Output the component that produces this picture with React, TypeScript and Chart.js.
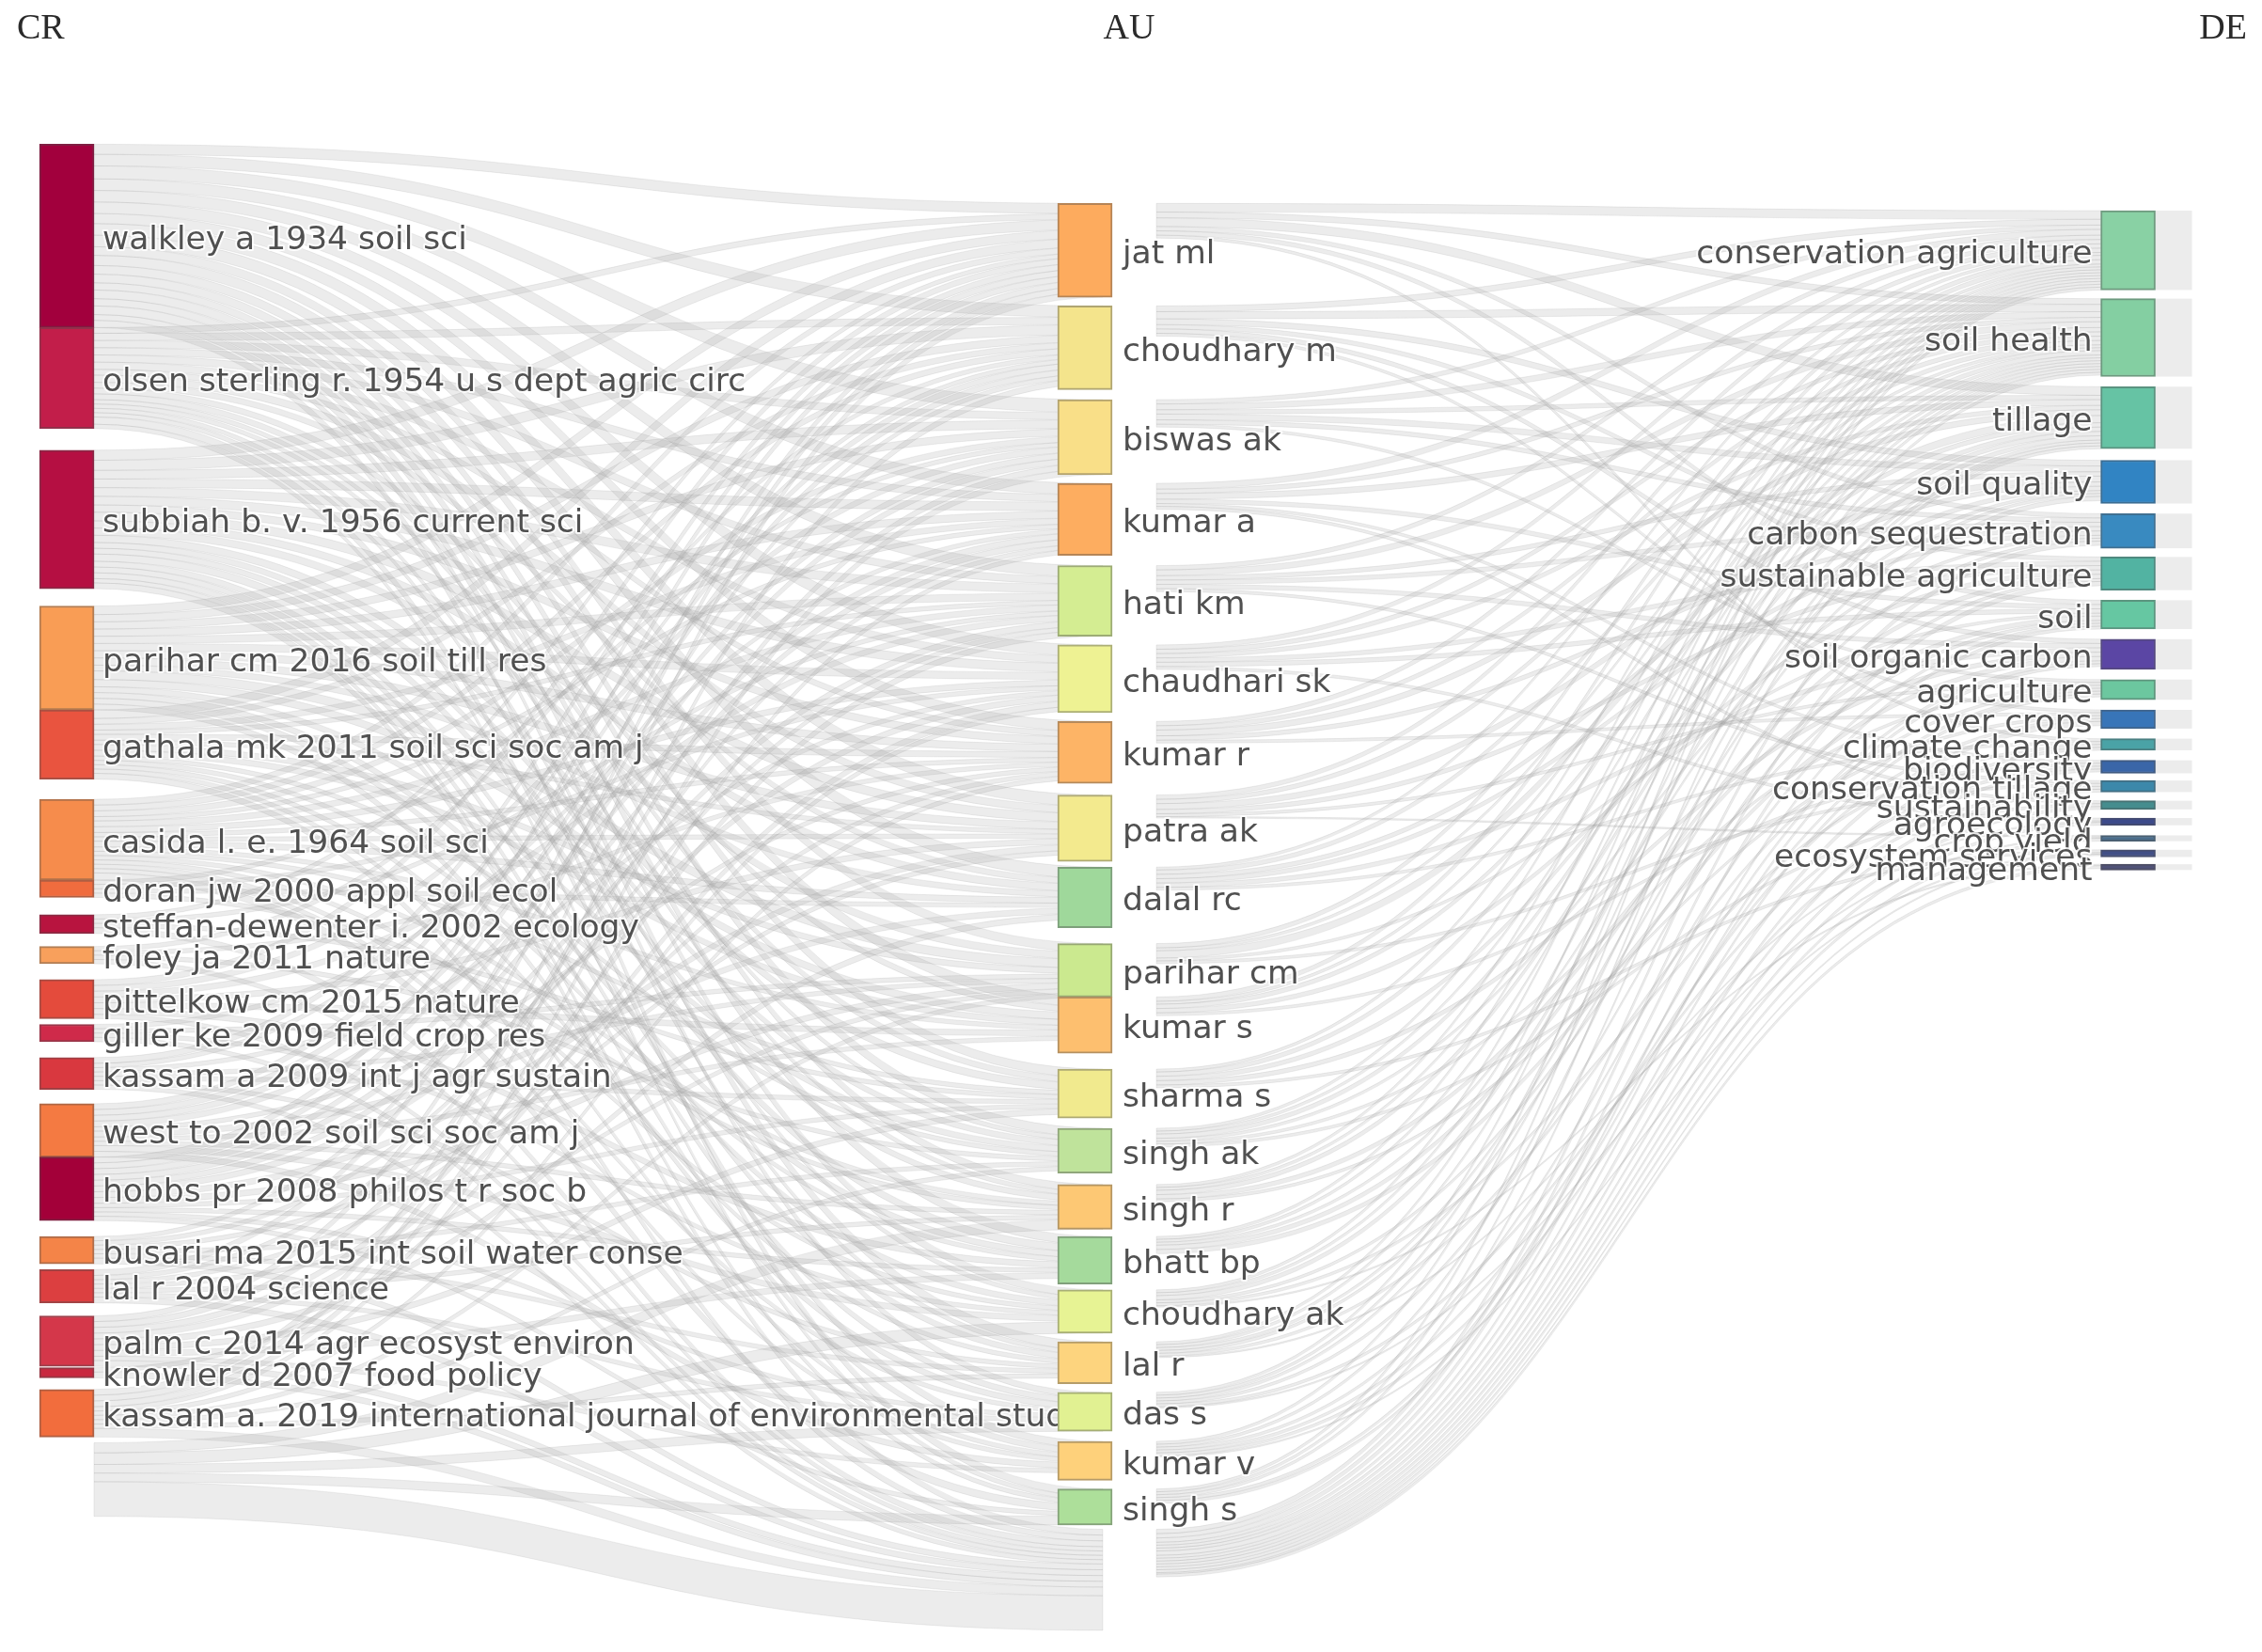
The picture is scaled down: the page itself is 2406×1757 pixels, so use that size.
import React, { useEffect, useRef } from "react";
import { Chart, registerables } from "chart.js";

Chart.register(...registerables);

// ---------------- data ----------------
const COLUMN_TITLES = ["CR", "AU", "DE"];

const CR_LABELS = [
  "walkley a 1934 soil sci",
  "olsen sterling r. 1954 u s dept agric circ",
  "subbiah b. v. 1956 current sci",
  "parihar cm 2016 soil till res",
  "gathala mk 2011 soil sci soc am j",
  "casida l. e. 1964 soil sci",
  "doran jw 2000 appl soil ecol",
  "steffan-dewenter i. 2002 ecology",
  "foley ja 2011 nature",
  "pittelkow cm 2015 nature",
  "giller ke 2009 field crop res",
  "kassam a 2009 int j agr sustain",
  "west to 2002 soil sci soc am j",
  "hobbs pr 2008 philos t r soc b",
  "busari ma 2015 int soil water conse",
  "lal r 2004 science",
  "palm c 2014 agr ecosyst environ",
  "knowler d 2007 food policy",
  "kassam a. 2019 international journal of environmental studies",
];
const CR_VALUES = [127, 70, 96, 72, 48, 56, 12, 13, 12, 27, 12, 22, 37, 44, 19, 23, 35, 7, 33];
const CR_COLORS = [
  "#a2003d", "#c21e4a", "#b50f42", "#f99d55", "#e9543f", "#f68c4c", "#f06c3e",
  "#b8143f", "#f8a05c", "#e44b3c", "#cf2a4a", "#d9383f", "#f47a42", "#a30039",
  "#f48448", "#dc3f40", "#d4374a", "#c9283f", "#f26d3d",
];

const AU_LABELS = [
  "jat ml", "choudhary m", "biswas ak", "kumar a", "hati km", "chaudhari sk",
  "kumar r", "patra ak", "dalal rc", "parihar cm", "kumar s", "sharma s",
  "singh ak", "singh r", "bhatt bp", "choudhary ak", "lal r", "das s",
  "kumar v", "singh s",
];
const AU_VALUES = [65, 58, 52, 50, 49, 47, 43, 46, 42, 37, 39, 34, 31, 31, 33, 30, 29, 27, 27, 25];
const AU_COLORS = [
  "#fdab5e", "#f4e48c", "#f9df88", "#fdad60", "#d4ed92", "#eef293", "#fdb466",
  "#f3ea8e", "#9fd89b", "#cbe98f", "#fdbf6f", "#f1ea8e", "#bfe39b", "#fdc874",
  "#a5da9c", "#e7f394", "#fdd47e", "#e1f192", "#fed17b", "#addf9a",
];

const DE_LABELS = [
  "conservation agriculture", "soil health", "tillage", "soil quality",
  "carbon sequestration", "sustainable agriculture", "soil", "soil organic carbon",
  "agriculture", "cover crops", "climate change", "biodiversity",
  "conservation tillage", "sustainability", "agroecology", "crop yield",
  "ecosystem services", "management",
];
const DE_VALUES = [55, 54, 43, 30, 24, 23, 20, 21, 14, 13, 8, 9, 8, 6, 5, 4, 5, 4];
const DE_COLORS = [
  "#89d1a4", "#84cfa2", "#66c3a4", "#3184c3", "#398ac0", "#52b3a2", "#66c7a2",
  "#5b46a4", "#6cc79f", "#3875b8", "#4aa3a6", "#3a66a8", "#3c88aa", "#458d8e",
  "#3c4a8a", "#4c6e8c", "#414f86", "#505278",
];

// flows of items not shown as labelled nodes (unlabelled bands at the bottom)
const CR_OTHER_VALUE = 51; // source index 19 in CR_AU_LINKS
const AU_OTHER_VALUE = 70; // index 20 in AU targets / sources

// [source, target, value]
const CR_AU_LINKS: number[][] = [
  [0,0,7],[0,1,8],[0,2,9],[0,3,8],[0,4,8],[0,5,8],[0,6,7],[0,7,8],[0,8,8],[0,9,6],[0,10,7],[0,11,6],[0,12,6],[0,13,5],[0,14,6],[0,15,5],[0,16,6],[0,17,4],[0,19,5],
  [1,0,4],[1,1,5],[1,2,5],[1,3,5],[1,4,5],[1,5,5],[1,6,4],[1,7,5],[1,8,4],[1,10,4],[1,11,4],[1,12,3],[1,13,3],[1,15,3],[1,16,3],[1,18,5],[1,19,3],
  [2,0,7],[2,1,7],[2,2,6],[2,3,6],[2,4,6],[2,5,6],[2,6,5],[2,7,6],[2,8,5],[2,9,5],[2,11,5],[2,12,4],[2,13,4],[2,14,5],[2,16,4],[2,17,4],[2,18,4],[2,19,3],[2,20,4],
  [3,0,6],[3,1,5],[3,2,5],[3,3,5],[3,4,5],[3,5,5],[3,6,5],[3,7,5],[3,8,4],[3,9,6],[3,10,5],[3,12,4],[3,14,4],[3,15,4],[3,17,4],
  [4,0,6],[4,1,4],[4,3,4],[4,4,3],[4,6,4],[4,7,3],[4,9,4],[4,10,4],[4,12,3],[4,14,3],[4,16,3],[4,18,3],[4,20,4],
  [5,0,4],[5,1,4],[5,2,4],[5,3,3],[5,4,4],[5,5,4],[5,6,3],[5,7,3],[5,8,4],[5,10,3],[5,11,3],[5,13,3],[5,15,3],[5,17,3],[5,18,3],[5,19,5],
  [6,2,3],[6,5,3],[6,8,3],[6,13,3],
  [7,0,3],[7,4,3],[7,11,3],[7,20,4],
  [8,1,3],[8,6,3],[8,12,3],[8,20,3],
  [9,0,4],[9,2,4],[9,4,4],[9,7,4],[9,10,4],[9,14,4],[9,20,3],
  [10,3,3],[10,9,3],[10,15,3],[10,20,3],
  [11,0,4],[11,1,3],[11,5,3],[11,9,3],[11,11,3],[11,16,3],[11,20,3],
  [12,0,4],[12,1,4],[12,2,4],[12,3,4],[12,6,3],[12,8,4],[12,10,3],[12,13,3],[12,15,4],[12,18,4],
  [13,0,4],[13,1,4],[13,2,4],[13,3,4],[13,4,4],[13,5,4],[13,7,4],[13,9,4],[13,11,3],[13,14,3],[13,17,3],[13,19,3],
  [14,1,3],[14,4,3],[14,7,3],[14,12,3],[14,16,3],[14,20,4],
  [15,0,4],[15,3,3],[15,6,3],[15,9,3],[15,13,3],[15,17,3],[15,20,4],
  [16,0,4],[16,2,4],[16,4,4],[16,5,4],[16,8,4],[16,11,4],[16,14,4],[16,18,3],[16,20,4],
  [17,5,3],[17,20,4],
  [18,0,4],[18,1,4],[18,2,4],[18,3,3],[18,6,3],[18,9,3],[18,12,3],[18,16,3],[18,20,6],
  [19,13,7],[19,15,8],[19,17,6],[19,19,6],[19,20,24],
];

const AU_DE_LINKS: number[][] = [
  [0,0,6],[0,1,4],[0,2,6],[0,4,3],[0,6,3],[0,10,2],
  [1,0,4],[1,1,5],[1,3,4],[1,5,3],[1,7,3],[1,9,2],
  [2,0,3],[2,1,4],[2,2,3],[2,3,4],[2,4,3],[2,8,2],
  [3,0,4],[3,1,3],[3,2,4],[3,6,3],[3,11,2],[3,13,2],
  [4,0,3],[4,1,4],[4,3,3],[4,4,3],[4,7,3],[4,12,2],
  [5,0,3],[5,1,3],[5,2,3],[5,5,3],[5,6,3],[5,14,2],
  [6,0,3],[6,1,3],[6,2,4],[6,4,3],[6,9,2],
  [7,0,3],[7,1,3],[7,3,4],[7,5,3],[7,8,2],[7,15,1],
  [8,0,2],[8,1,3],[8,3,3],[8,4,3],[8,7,3],[8,10,2],
  [9,0,3],[9,1,2],[9,2,5],[9,6,2],[9,12,2],
  [10,0,3],[10,1,2],[10,2,3],[10,5,3],[10,11,2],
  [11,0,2],[11,1,3],[11,3,3],[11,7,3],[11,16,2],
  [12,0,2],[12,1,2],[12,2,3],[12,4,2],[12,8,2],[12,13,2],
  [13,0,2],[13,1,2],[13,2,3],[13,6,3],[13,9,2],
  [14,0,2],[14,1,2],[14,3,2],[14,5,3],[14,7,3],
  [15,0,2],[15,1,2],[15,2,3],[15,6,2],[15,10,2],[15,17,1],
  [16,0,2],[16,1,2],[16,3,2],[16,4,2],[16,8,2],[16,14,1],
  [17,0,2],[17,1,2],[17,2,2],[17,5,2],[17,11,2],[17,15,1],
  [18,0,2],[18,2,2],[18,6,2],[18,9,2],[18,12,2],[18,16,1],
  [19,0,2],[19,1,2],[19,2,2],[19,7,2],[19,8,2],
  [20,3,3],[20,4,3],[20,5,3],[20,6,2],[20,7,2],[20,8,2],[20,9,3],[20,10,2],[20,11,2],[20,12,2],[20,13,2],[20,14,2],[20,15,2],[20,16,1],[20,17,2],
];

// ---------------- layout / style ----------------
const LAYOUT = {
  width: 2406,
  height: 1757,
  colX: [0, 1, 2.0245],
  xMin: -0.06556,
  xMax: 2.15605,
  yMax: 1145,
  colStart: [100, 141, 146],
  crGaps: [0, 15, 12, 0, 14, 0, 12, 9, 11, 4, 11, 10, 0, 11, 4, 9, 1, 8, 4],
  auGaps: [6, 7, 6, 7, 6, 6, 8, 4, 11, 0, 11, 7, 8, 5, 4, 6, 6, 7, 6, 3],
  deGaps: [6, 7, 8, 7, 6, 7, 7, 7, 7, 7, 7, 5, 6, 6, 7, 6, 5],
  nodeWidth: 58,
  auLinkGap: 47,
  stubLength: 39,
  labelFont: '34.5px "DejaVu Sans"',
  titleFont: '38px "Liberation Serif"',
};
const LINK_FILL = "rgba(170,170,170,0.22)";
const LINK_EDGE = "rgba(140,140,140,0.15)";
const LABEL_COLOR = "#505050";
const TITLE_COLOR = "#2a2a2a";

function stackNodes(values: number[], gaps: number[], start: number) {
  const tops: number[] = [];
  let y = start;
  values.forEach((v, i) => {
    if (i > 0) y += gaps[i - 1];
    tops.push(y);
    y += v;
  });
  return tops;
}

const crTops = stackNodes([...CR_VALUES, CR_OTHER_VALUE], LAYOUT.crGaps, LAYOUT.colStart[0]);
const auTops = stackNodes([...AU_VALUES, AU_OTHER_VALUE], LAYOUT.auGaps, LAYOUT.colStart[1]);
const deTops = stackNodes(DE_VALUES, LAYOUT.deGaps, LAYOUT.colStart[2]);

function linkGeometry(links: number[][], srcTops: number[], tgtTops: number[]) {
  const s: number[] = new Array(links.length);
  const t: number[] = new Array(links.length);
  const so = srcTops.map(() => 0);
  const to = tgtTops.map(() => 0);
  const idx = links.map((_, i) => i);
  [...idx]
    .sort((a, b) => links[a][0] - links[b][0] || links[a][1] - links[b][1])
    .forEach((i) => {
      const [src, , v] = links[i];
      s[i] = srcTops[src] + so[src];
      so[src] += v;
    });
  [...idx]
    .sort((a, b) => links[a][1] - links[b][1] || links[a][0] - links[b][0])
    .forEach((i) => {
      const [, tgt, v] = links[i];
      t[i] = tgtTops[tgt] + to[tgt];
      to[tgt] += v;
    });
  return { s, t };
}

function mixHex(a: string, b: string, k: number) {
  const pa = parseInt(a.slice(1), 16);
  const pb = parseInt(b.slice(1), 16);
  const ch = (p: number, sh: number) => (p >> sh) & 255;
  const r = Math.round(ch(pa, 16) * (1 - k) + ch(pb, 16) * k);
  const g = Math.round(ch(pa, 8) * (1 - k) + ch(pb, 8) * k);
  const bl = Math.round(ch(pa, 0) * (1 - k) + ch(pb, 0) * k);
  return `rgb(${r},${g},${bl})`;
}

function drawBand(ctx: CanvasRenderingContext2D, x0: number, y0a: number, y0b: number, x1: number, y1a: number, y1b: number) {
  const xm = (x0 + x1) / 2;
  ctx.beginPath();
  ctx.moveTo(x0, y0a);
  ctx.bezierCurveTo(xm, y0a, xm, y1a, x1, y1a);
  ctx.lineTo(x1, y1b);
  ctx.bezierCurveTo(xm, y1b, xm, y0b, x0, y0b);
  ctx.closePath();
  ctx.fill();
  ctx.stroke();
}

function drawLabel(ctx: CanvasRenderingContext2D, text: string, x: number, y: number) {
  ctx.strokeText(text, x, y);
  ctx.fillText(text, x, y);
}

const sankeyPlugin = {
  id: "sankeyLinks",
  beforeDatasetsDraw(chart: any) {
    const ctx: CanvasRenderingContext2D = chart.ctx;
    const xs = chart.scales.x;
    const ys = chart.scales.y;
    const W = LAYOUT.nodeWidth;
    const colPx = LAYOUT.colX.map((v) => xs.getPixelForValue(v));
    const py = (v: number) => ys.getPixelForValue(v);
    ctx.save();
    ctx.fillStyle = LINK_FILL;
    ctx.strokeStyle = LINK_EDGE;
    ctx.lineWidth = 1;
    const g1 = linkGeometry(CR_AU_LINKS, crTops, auTops);
    const x0 = colPx[0] + W / 2;
    const x1 = colPx[1] + W / 2 - 10;
    CR_AU_LINKS.forEach((l, i) => {
      const v = l[2];
      drawBand(ctx, x0, py(g1.s[i]), py(g1.s[i] + v), x1, py(g1.t[i]), py(g1.t[i] + v));
    });
    const g2 = linkGeometry(AU_DE_LINKS, auTops, deTops);
    const x2 = colPx[1] + W / 2 + LAYOUT.auLinkGap;
    const x3 = colPx[2] - W / 2;
    AU_DE_LINKS.forEach((l, i) => {
      const v = l[2];
      drawBand(ctx, x2, py(g2.s[i]), py(g2.s[i] + v), x3, py(g2.t[i]), py(g2.t[i] + v));
    });
    DE_VALUES.forEach((v, i) => {
      const ya = py(deTops[i]);
      const yb = py(deTops[i] + v);
      ctx.fillRect(colPx[2] + W / 2, ya, LAYOUT.stubLength, yb - ya);
    });
    ctx.restore();
  },
  afterDatasetsDraw(chart: any) {
    const ctx: CanvasRenderingContext2D = chart.ctx;
    const xs = chart.scales.x;
    const ys = chart.scales.y;
    const W = LAYOUT.nodeWidth;
    const colPx = LAYOUT.colX.map((v) => xs.getPixelForValue(v));
    const py = (v: number) => ys.getPixelForValue(v);
    const off = 5;
    ctx.save();
    ctx.font = LAYOUT.labelFont;
    ctx.fillStyle = LABEL_COLOR;
    ctx.strokeStyle = "rgba(255,255,255,0.85)";
    ctx.lineWidth = 4;
    ctx.lineJoin = "round";
    ctx.textBaseline = "middle";
    // CR labels (clipped by the AU column)
    ctx.save();
    ctx.beginPath();
    ctx.rect(0, 0, colPx[1] - W / 2, LAYOUT.height);
    ctx.clip();
    ctx.textAlign = "left";
    CR_LABELS.forEach((lab, i) => {
      const yc = (py(crTops[i]) + py(crTops[i] + CR_VALUES[i])) / 2 + off;
      drawLabel(ctx, lab, colPx[0] + W / 2 + 9, yc);
    });
    ctx.restore();
    ctx.textAlign = "left";
    AU_LABELS.forEach((lab, i) => {
      const yc = (py(auTops[i]) + py(auTops[i] + AU_VALUES[i])) / 2 + off;
      drawLabel(ctx, lab, colPx[1] + W / 2 + 11, yc);
    });
    ctx.textAlign = "right";
    DE_LABELS.forEach((lab, i) => {
      const yc = (py(deTops[i]) + py(deTops[i] + DE_VALUES[i])) / 2 + off;
      drawLabel(ctx, lab, colPx[2] - W / 2 - 9, yc);
    });
    // column titles
    ctx.font = LAYOUT.titleFont;
    ctx.fillStyle = TITLE_COLOR;
    ctx.textBaseline = "alphabetic";
    ctx.textAlign = "left";
    ctx.fillText(COLUMN_TITLES[0], 18, 41);
    ctx.textAlign = "center";
    ctx.fillText(COLUMN_TITLES[1], chart.width / 2 - 2, 41);
    ctx.textAlign = "right";
    ctx.fillText(COLUMN_TITLES[2], chart.width - 16, 41);
    ctx.restore();
  },
};

export default function App() {
  const canvasRef = useRef<HTMLCanvasElement | null>(null);

  useEffect(() => {
    if (!canvasRef.current) return;
    document.body.style.overflow = "hidden";
    const columns = [
      { values: CR_VALUES, colors: CR_COLORS, tops: crTops },
      { values: AU_VALUES, colors: AU_COLORS, tops: auTops },
      { values: DE_VALUES, colors: DE_COLORS, tops: deTops },
    ];
    const datasets = columns.map((col, c) => ({
      label: COLUMN_TITLES[c],
      data: col.values.map((v, i) => ({ x: LAYOUT.colX[c], y: [col.tops[i], col.tops[i] + v] })),
      backgroundColor: col.colors,
      borderColor: col.colors.map((h) => mixHex(h, "#4a4a4a", 0.4)),
      borderWidth: 2,
      borderSkipped: false as const,
      barPercentage: 1,
      categoryPercentage: 1,
      maxBarThickness: LAYOUT.nodeWidth,
      grouped: false,
    }));
    const chart = new Chart(canvasRef.current, {
      type: "bar",
      data: { datasets: datasets as any },
      options: {
        animation: false,
        responsive: false,
        maintainAspectRatio: false,
        devicePixelRatio: 1,
        layout: { padding: 0 },
        plugins: {
          legend: { display: false },
          tooltip: { enabled: false },
          title: { display: false },
        },
        scales: {
          x: {
            type: "linear",
            min: LAYOUT.xMin,
            max: LAYOUT.xMax,
            display: false,
            offset: false,
            ticks: { stepSize: 0.5 },
          },
          y: {
            type: "linear",
            min: 0,
            max: LAYOUT.yMax,
            reverse: true,
            display: false,
          },
        },
      },
      plugins: [sankeyPlugin],
    });
    return () => chart.destroy();
  }, []);

  return (
    <div
      style={{
        position: "absolute",
        left: 0,
        top: 0,
        width: LAYOUT.width,
        height: LAYOUT.height,
        background: "#ffffff",
      }}
    >
      <canvas
        ref={canvasRef}
        width={LAYOUT.width}
        height={LAYOUT.height}
        style={{ display: "block", width: LAYOUT.width, height: LAYOUT.height }}
      />
    </div>
  );
}
